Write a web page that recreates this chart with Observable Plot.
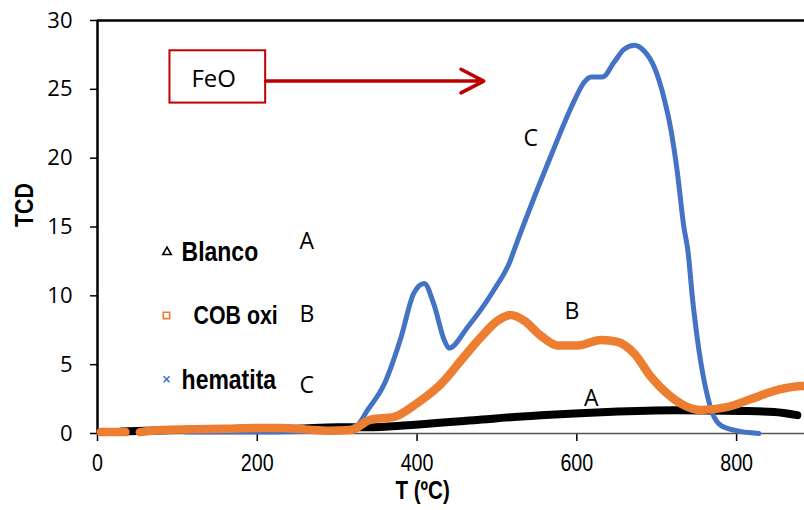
<!DOCTYPE html>
<html>
<head>
<meta charset="utf-8">
<script src="https://cdn.jsdelivr.net/npm/d3@7"></script>
<script src="https://cdn.jsdelivr.net/npm/@observablehq/plot@0.6"></script>
<style>
  html, body { margin: 0; padding: 0; background: #fff; }
  #chart svg { display: block; }
</style>
</head>
<body>
<div id="chart"></div>
<script>
// ---- Data ----
const seriesNames = ["Blanco", "COB oxi", "hematita"];
const seriesLetters = ["A", "B", "C"];
const xTicks = [0, 200, 400, 600, 800];
const yTicks = [0, 5, 10, 15, 20, 25, 30];

// A: Blanco (black)
const blancoT   = [30, 60, 100, 150, 200, 250, 300, 340, 388, 471, 555, 638, 722, 805, 847, 876];
const blancoTCD = [0.15, 0.2, 0.25, 0.3, 0.3, 0.35, 0.45, 0.45, 0.6, 0.97, 1.33, 1.57, 1.69, 1.64, 1.57, 1.33];

// B: COB oxi (orange) - null marks the small gap near the start
const cobT   = [4, 35, 44, 53, 80, 120, 160, 200, 230, 260, 290, 317, 342, 371, 400, 430, 455, 480, 501, 517, 534, 555, 576, 601, 630, 651, 672, 693, 713, 734, 755, 789, 818, 847, 872, 885];
const cobTCD = [0.1, 0.1, null, 0.1, 0.25, 0.3, 0.35, 0.4, 0.4, 0.3, 0.2, 0.25, 1.0, 1.2, 2.2, 3.6, 5.3, 7.0, 8.2, 8.6, 8.2, 7.1, 6.4, 6.4, 6.8, 6.65, 5.8, 4.1, 2.9, 2.05, 1.7, 1.93, 2.5, 3.1, 3.4, 3.45];

// C: hematita (blue)
const hemT   = [110, 150, 200, 250, 300, 325, 338, 359, 380, 396, 409, 421, 434, 440, 463, 496, 517, 522, 547, 572, 584, 597, 609, 618, 632, 647, 659, 672, 684, 697, 709, 718, 726, 734, 739, 745, 753, 762, 770, 780, 797, 828];
const hemTCD = [0.1, 0.1, 0.1, 0.15, 0.2, 0.6, 1.7, 3.6, 7.0, 10.2, 10.9, 9.4, 6.8, 6.2, 7.7, 10.4, 12.6, 13.4, 17.2, 20.8, 22.5, 24.2, 25.5, 25.9, 25.9, 27.0, 27.9, 28.2, 27.8, 26.6, 24.4, 22.0, 18.9, 15.0, 13.3, 9.7, 6.0, 3.1, 1.45, 0.6, 0.24, 0.0];

// Annotation content
const feoLabel = "FeO";
const xTitle = "T (ºC)";
const yTitle = "TCD";

// ---- Build tables ----
const toRows = (xs, ys) => xs.map((x, i) => ({x, y: ys[i]}));
const blanco = toRows(blancoT, blancoTCD);
const cob = toRows(cobT, cobTCD);
const hem = toRows(hemT, hemTCD);

// font check for narrow face
function hasFont(name) {
  const c = document.createElement("canvas").getContext("2d");
  c.font = "40px monospace";
  const a = c.measureText("Blanco hematita 0123").width;
  c.font = `40px '${name}', monospace`;
  const b = c.measureText("Blanco hematita 0123").width;
  return Math.abs(a - b) > 0.5;
}
const narrowOK = hasFont("Liberation Sans Narrow");
const NARROW = narrowOK ? "'Liberation Sans Narrow', 'Liberation Sans', sans-serif" : "'Liberation Sans', Arial, sans-serif";
const SQUEEZE = narrowOK ? 1 : 0.82;
const CAL = "'Open Sans', 'Noto Sans', sans-serif";

const BLUE = "#4472c4", ORANGE = "#ed7d31", RED = "#c00000";

const legendRows = [
  {x: 87, y: 13.18, tx: 105.3, ty: 13.2, name: seriesNames[0], sym: "triangle", col: "#000", r: 3.2, fs: 28},
  {x: 86.3, y: 8.58, tx: 120.3, ty: 8.55, name: seriesNames[1], sym: "square", col: ORANGE, r: 4.2, fs: 26},
  {x: 86.5, y: 3.94, tx: 105.3, ty: 3.85, name: seriesNames[2], sym: "times", col: BLUE, r: 2.6, fs: 28}
];
const sideLetters = [
  {x: 262, y: 13.97, t: seriesLetters[0]},
  {x: 262, y: 8.66, t: seriesLetters[1]},
  {x: 262, y: 3.5, t: seriesLetters[2]}
];
const curveLetters = [
  {x: 618, y: 2.53, t: seriesLetters[0]},
  {x: 593.8, y: 8.88, t: seriesLetters[1]},
  {x: 542.4, y: 21.4, t: seriesLetters[2]}
];

const chart = Plot.plot({
  width: 804,
  height: 510,
  marginTop: 20,
  marginRight: 0,
  marginBottom: 77,
  marginLeft: 97,
  style: {background: "#fff", color: "#000", overflow: "visible"},
  x: {domain: [0, 885]},
  y: {domain: [0, 30]},
  marks: [
    Plot.axisY({ticks: yTicks, tickSize: 7, tickPadding: 18, fontSize: 22, fontFamily: CAL, label: null, strokeWidth: 1.5}),
    Plot.axisX({ticks: xTicks, tickSize: 8, tickPadding: 12, fontSize: 24, fontFamily: NARROW, label: null, strokeWidth: 1.5, className: "narrow"}),
    Plot.ruleY([0], {stroke: "#555", strokeWidth: 1.5}),
    Plot.ruleY([30], {stroke: "#000", strokeWidth: 2.5}),
    Plot.ruleX([0], {stroke: "#000", strokeWidth: 2.5}),
    // series
    Plot.line(blanco, {x: "x", y: "y", stroke: "#000", strokeWidth: 8, curve: "monotone-x"}),
    Plot.line(hem, {x: "x", y: "y", stroke: BLUE, strokeWidth: 5, curve: "monotone-x"}),
    Plot.line(cob, {x: "x", y: "y", stroke: ORANGE, strokeWidth: 8.5, curve: "monotone-x"}),
    // legend
    Plot.dot(legendRows, {x: "x", y: "y", symbol: "sym", stroke: "col", r: "r", strokeWidth: 1.6, fill: "none"}),
    ...legendRows.map(d => Plot.text([d], {x: "tx", y: "ty", text: "name", textAnchor: "start", fontSize: d.fs, fontWeight: "bold", fontFamily: NARROW, fill: "#000", className: "narrow"})),
    Plot.text(sideLetters, {x: "x", y: "y", text: "t", fontSize: 23, fontFamily: CAL, fill: "#000"}),
    Plot.text(curveLetters, {x: "x", y: "y", text: "t", fontSize: 23, fontFamily: CAL, fill: "#000"}),
    // FeO annotation
    Plot.rect([{x1: 90.7, x2: 210.5, y1: 24.0, y2: 27.8}], {x1: "x1", x2: "x2", y1: "y1", y2: "y2", fill: "#fff", stroke: RED, strokeWidth: 2}),
    Plot.text([{x: 145.4, y: 25.75}], {x: "x", y: "y", text: () => feoLabel, fontSize: 24, fontFamily: CAL, fill: "#000"}),
    Plot.arrow([{x1: 210.5, y1: 25.6, x2: 483.5, y2: 25.6}], {x1: "x1", y1: "y1", x2: "x2", y2: "y2", stroke: RED, strokeWidth: 3.5, headLength: 11, headAngle: 55}),
    // axis titles
    Plot.text([{x: 407}], {x: "x", frameAnchor: "bottom", dy: 65, text: () => xTitle, fontSize: 25, fontWeight: "bold", fontFamily: NARROW, fill: "#000", className: "narrow"}),
    Plot.text([yTitle], {frameAnchor: "left", dx: -73, rotate: -90, text: d => d, fontSize: 26, fontWeight: "bold", fontFamily: NARROW, fill: "#000", className: "narrow"})
  ]
});
document.getElementById("chart").appendChild(chart);

// emulate a condensed face when no narrow font is installed
if (SQUEEZE !== 1) {
  chart.querySelectorAll(".narrow text").forEach(t => {
    const w = t.getComputedTextLength();
    t.setAttribute("textLength", (w * SQUEEZE).toFixed(2));
    t.setAttribute("lengthAdjust", "spacingAndGlyphs");
  });
}
</script>
</body>
</html>
